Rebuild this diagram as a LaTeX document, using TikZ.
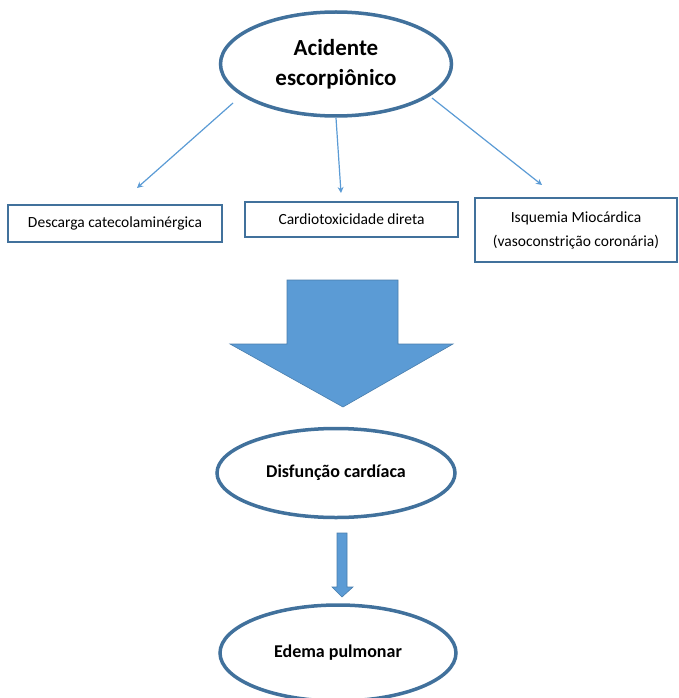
\documentclass[tikz,border=0pt]{standalone}
\usepackage{fontspec}
\setmainfont{Carlito}
\usetikzlibrary{shapes.geometric,arrows.meta}
\definecolor{edge}{HTML}{41719C}
\definecolor{lite}{HTML}{5B9BD5}
\tikzset{
  oval/.style={ellipse, draw=edge, line width=3.5pt, fill=white, align=center, font=\bfseries, inner sep=0pt},
  box/.style={draw=edge, line width=1.2pt, fill=white, align=center, font=\fontsize{15.5}{19}\selectfont, inner sep=0pt},
  thin/.style={draw=lite, line width=1.2pt, -{Stealth[length=6pt,width=6pt]}},
  bigarrow/.style={fill=lite, draw=edge!70!lite, line width=0.6pt}
}
\begin{document}
\begin{tikzpicture}[x=1pt,y=-1pt]
\useasboundingbox (0,0) rectangle (679,698);
\clip (0,0) rectangle (679,698);
\node[oval, minimum width=231pt, minimum height=104pt, font=\bfseries\fontsize{23}{30}\selectfont] (top) at (336,64) {Acidente\\escorpiônico};
\node[box, minimum width=214pt, minimum height=37pt] (b1) at (115,223.5) {Descarga catecolaminérgica};
\node[box, minimum width=213pt, minimum height=35pt] (b2) at (351.5,219.5) {Cardiotoxicidade direta};
\node[box, minimum width=202pt, minimum height=64pt, font=\fontsize{15.5}{24}\selectfont] (b3) at (576,230) {Isquemia Miocárdica\\(vasoconstrição coronária)};
\coordinate (c1) at (137,188);
\coordinate (c2) at (341,193);
\coordinate (c3) at (542,185);
\draw[thin] (233,103) -- (c1);
\draw[thin] (336,118) -- (c2);
\draw[thin] (432,98) -- (c3);
\path[bigarrow] (287,280) -- (398,280) -- (398,344) -- (453,344) -- (343,407) -- (230,344) -- (287,344) -- cycle;
\node[oval, minimum width=238pt, minimum height=89pt, font=\bfseries\fontsize{18}{22}\selectfont] (mid) at (336,473) {Disfunção cardíaca};
\path[bigarrow] (337,533) -- (347,533) -- (347,587) -- (353,587) -- (342,597) -- (332,587) -- (337,587) -- cycle;
\node[oval, minimum width=236pt, minimum height=96pt, font=\bfseries\fontsize{18}{22}\selectfont] (bot) at (338,653) {Edema pulmonar};
\end{tikzpicture}
\end{document}
